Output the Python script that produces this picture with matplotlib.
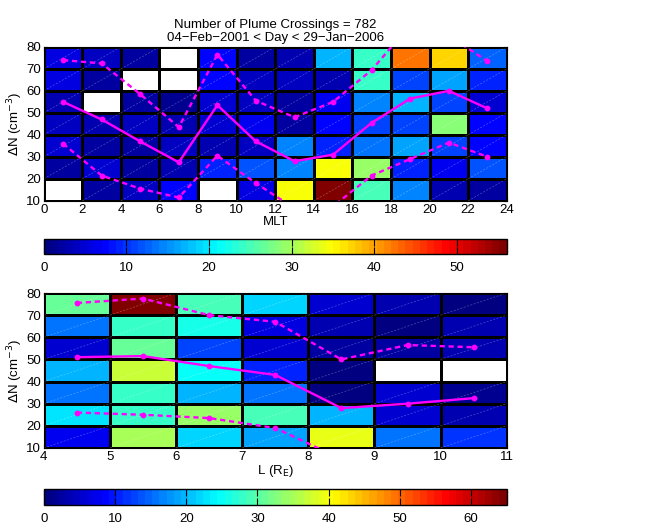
import numpy as np
import matplotlib
matplotlib.use("Agg")
import matplotlib.pyplot as plt
from matplotlib.colors import LinearSegmentedColormap
from matplotlib.collections import LineCollection

plt.rcParams["font.family"] = ["Liberation Sans", "DejaVu Sans"]
plt.rcParams["font.size"] = 9.5

nan = np.nan

# top panel: MLT bins (2 h) x dN bins (10 cm^-3), rows listed bottom (10-20) to top (70-80)
mlt_edges = np.arange(0, 25, 2)
dn_edges = np.arange(10, 81, 10)
mlt_counts = np.array([
    [nan, 2, 4, 7, nan, 5.5, 34.3, 56, 24.5, 14, 3, 2],
    [2, 5, 2.5, 3, 9.5, 12, 14.7, 34.3, 29.4, 9, 6.5, 12],
    [5, 2, 2.5, 3.5, 3, 3.5, 14.7, 9.5, 13.3, 16, 11, 7],
    [3.5, 3, 4, 3, 5, 6.5, 2, 7, 11, 11, 28, 7],
    [3, nan, 2, 1.5, 5, 3.5, 2, 6.5, 14, 17, 11, 5],
    [5.5, 2, nan, nan, 7.5, 4, 3.5, 3, 24, 10.5, 16, 9.5],
    [5.5, 3.5, 2.5, nan, 7, 2, 3, 17, 24, 42, 37, 12.6],
])
mlt_mid = [1, 3, 5, 7, 9, 11, 13, 15, 17, 19, 21, 23]
mlt_median = [55, 47, 37, 27.5, 53.5, 37, 28, 31, 45.5, 56.5, 60, 52]
mlt_upper = [74, 72.5, 58.5, 43.5, 76.5, 55.5, 48, 55, 69.5, 90, 85, 73.5]
mlt_lower = [36, 21.5, 15.5, 11.5, 30.5, 18, 6.5, 7.5, 21.5, 29, 36.5, 30]

# bottom panel: L bins (1 RE)
l_edges = np.arange(4, 12, 1)
l_counts = np.array([
    [7.3, 35, 22, 18.7, 39, 16, 11.4],
    [22.7, 27.6, 34, 28.5, 19.5, 5.7, 3.2],
    [16, 27.6, 20.3, 15.4, 0.8, 5.7, 1.6],
    [19.5, 37.4, 24.5, 10.4, 0.8, nan, nan],
    [5.7, 31, 13, 5.7, 2.4, 2.4, 3.2],
    [16, 27.6, 26, 6.5, 4, 1, 3.2],
    [31, 65, 28.5, 22, 5.7, 3.2, 0.8],
])
l_mid = [4.5, 5.5, 6.5, 7.5, 8.5, 9.5, 10.5]
l_median = [51, 51.5, 47, 43, 28, 30, 32.5]
l_upper = [75.5, 77.5, 70, 67, 50, 56.5, 55.5]
l_lower = [26, 25, 23.5, 19, 5, 4, 4]

# matlab style jet
cmap = LinearSegmentedColormap("mjet", {
    "red": [(0, 0, 0), (0.375, 0, 0), (0.625, 1, 1), (0.875, 1, 1), (1, 0.5, 0.5)],
    "green": [(0, 0, 0), (0.125, 0, 0), (0.375, 1, 1), (0.625, 1, 1), (0.875, 0, 0), (1, 0, 0)],
    "blue": [(0, 0.5, 0.5), (0.125, 1, 1), (0.375, 1, 1), (0.625, 0, 0), (1, 0, 0)],
}, N=64)
cmap.set_bad("white")


def panel(ax, cax, xedges, counts, vmax, xmid, med, up, lo, xlabel, xticks, cticks):
    m = ax.pcolormesh(xedges, dn_edges, np.ma.masked_invalid(counts), cmap=cmap,
                      vmin=0, vmax=vmax, edgecolors="black", linewidth=0.75)
    # faint diagonals from the cell triangulation
    segs = []
    for j in range(len(dn_edges) - 1):
        for i in range(len(xedges) - 1):
            if not np.isnan(counts[j, i]):
                segs.append([(xedges[i], dn_edges[j]), (xedges[i + 1], dn_edges[j + 1])])
    ax.add_collection(LineCollection(segs, colors="white", linewidths=0.5, alpha=0.3,
                                     linestyles=(0, (3, 2)), zorder=2))
    kw = dict(color="#ff00ff", lw=1.7, marker="o", ms=3.2, zorder=3)
    ax.plot(xmid, med, "-", **kw)
    ax.plot(xmid, up, "--", dashes=(2.2, 1.6), **kw)
    ax.plot(xmid, lo, "--", dashes=(2.2, 1.6), **kw)
    ax.set_xlim(xedges[0], xedges[-1])
    ax.set_ylim(10, 80)
    ax.set_xticks(xticks)
    ax.set_yticks(np.arange(10, 81, 10))
    ax.tick_params(direction="in", length=3, top=True, right=True, pad=2)
    ax.set_xlabel(xlabel, labelpad=0)
    ax.set_ylabel(r"$\Delta$N (cm$^{-3}$)", labelpad=1)
    cb = plt.colorbar(m, cax=cax, orientation="horizontal")
    cb.set_ticks(cticks)
    cax.tick_params(direction="in", length=5, top=True, bottom=True, labeltop=False, pad=6)
    cb.outline.set_linewidth(1)


fig = plt.figure(figsize=(6.53, 5.27), dpi=100)
ax1 = fig.add_axes([0.067, 0.619, 0.709, 0.292])
cax1 = fig.add_axes([0.067, 0.518, 0.709, 0.029])
ax2 = fig.add_axes([0.067, 0.150, 0.709, 0.294])
cax2 = fig.add_axes([0.067, 0.042, 0.709, 0.030])

panel(ax1, cax1, mlt_edges, mlt_counts, 56, mlt_mid, mlt_median, mlt_upper, mlt_lower,
      "MLT", np.arange(0, 25, 2), np.arange(0, 51, 10))
panel(ax2, cax2, l_edges, l_counts, 65, l_mid, l_median, l_upper, l_lower,
      r"L (R$_\mathrm{E}$)", np.arange(4, 12, 1), np.arange(0, 61, 10))

ax1.set_title("Number of Plume Crossings = 782\n04\u2212Feb\u22122001 < Day < 29\u2212Jan\u22122006",
              fontsize=9.5, pad=4, linespacing=1.1)

fig.savefig("out.png", dpi=100)
